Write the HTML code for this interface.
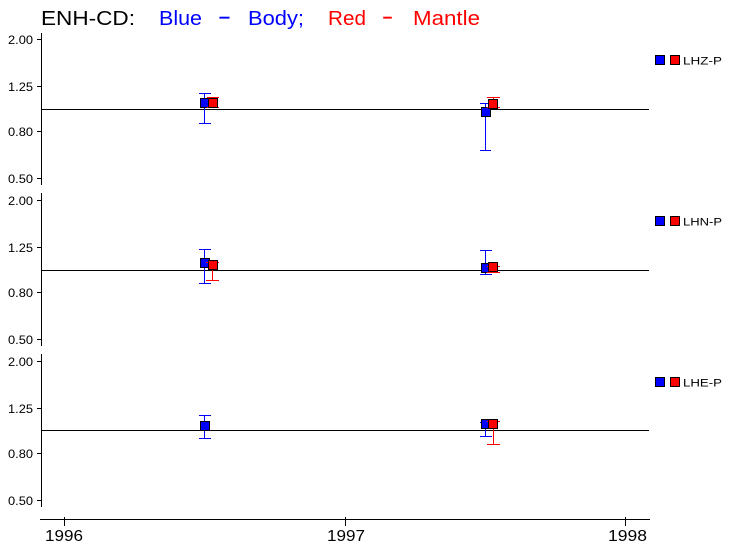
<!DOCTYPE html>
<html>
<head>
<meta charset="utf-8">
<style>
html,body{margin:0;padding:0;background:#fff;}
svg{display:block;}
text{font-family:"Liberation Sans",sans-serif;}
</style>
</head>
<body>
<svg width="733" height="551" viewBox="0 0 733 551" xmlns="http://www.w3.org/2000/svg">
<rect width="733" height="551" fill="#fff"/>
<!-- Title -->
<g font-size="20">
<text x="41" y="25" textLength="94" lengthAdjust="spacingAndGlyphs" fill="#000">ENH-CD:</text>
<text x="159" y="25" textLength="43" lengthAdjust="spacingAndGlyphs" fill="#0000ff">Blue</text>
<text x="218" y="23" textLength="13" lengthAdjust="spacingAndGlyphs" fill="#0000ff" stroke="#0000ff" stroke-width="0.3">-</text>
<text x="248" y="25" textLength="56" lengthAdjust="spacingAndGlyphs" fill="#0000ff">Body;</text>
<text x="328" y="25" textLength="38" lengthAdjust="spacingAndGlyphs" fill="#ff0000">Red</text>
<text x="382" y="23" textLength="11" lengthAdjust="spacingAndGlyphs" fill="#ff0000" stroke="#ff0000" stroke-width="0.3">-</text>
<text x="413" y="25" textLength="67" lengthAdjust="spacingAndGlyphs" fill="#ff0000">Mantle</text>
</g>

<g stroke="#000" stroke-width="1" fill="none" shape-rendering="crispEdges">
<!-- y axes -->
<line x1="41.5" y1="33" x2="41.5" y2="185"/>
<line x1="41.5" y1="193" x2="41.5" y2="346"/>
<line x1="41.5" y1="354" x2="41.5" y2="507"/>
<!-- y ticks -->
<line x1="37" y1="39.5" x2="41" y2="39.5"/>
<line x1="37" y1="86.5" x2="41" y2="86.5"/>
<line x1="37" y1="131.5" x2="41" y2="131.5"/>
<line x1="37" y1="178.5" x2="41" y2="178.5"/>
<line x1="37" y1="200.5" x2="41" y2="200.5"/>
<line x1="37" y1="247.5" x2="41" y2="247.5"/>
<line x1="37" y1="292.5" x2="41" y2="292.5"/>
<line x1="37" y1="339.5" x2="41" y2="339.5"/>
<line x1="37" y1="361.5" x2="41" y2="361.5"/>
<line x1="37" y1="408.5" x2="41" y2="408.5"/>
<line x1="37" y1="453.5" x2="41" y2="453.5"/>
<line x1="37" y1="500.5" x2="41" y2="500.5"/>
<!-- baselines -->
<line x1="41" y1="109.5" x2="649" y2="109.5"/>
<line x1="41" y1="270.5" x2="649" y2="270.5"/>
<line x1="41" y1="430.5" x2="649" y2="430.5"/>
<!-- x axis -->
<line x1="40" y1="519.5" x2="650" y2="519.5"/>
<line x1="64.5" y1="517" x2="64.5" y2="526"/>
<line x1="345.5" y1="517" x2="345.5" y2="526"/>
<line x1="625.5" y1="517" x2="625.5" y2="526"/>
</g>

<!-- y tick labels -->
<g font-size="12" fill="#000">
<text x="8" y="44" textLength="25" lengthAdjust="spacingAndGlyphs">2.00</text>
<text x="8" y="91" textLength="25" lengthAdjust="spacingAndGlyphs">1.25</text>
<text x="8" y="136" textLength="25" lengthAdjust="spacingAndGlyphs">0.80</text>
<text x="8" y="183" textLength="25" lengthAdjust="spacingAndGlyphs">0.50</text>
<text x="8" y="205" textLength="25" lengthAdjust="spacingAndGlyphs">2.00</text>
<text x="8" y="252" textLength="25" lengthAdjust="spacingAndGlyphs">1.25</text>
<text x="8" y="297" textLength="25" lengthAdjust="spacingAndGlyphs">0.80</text>
<text x="8" y="344" textLength="25" lengthAdjust="spacingAndGlyphs">0.50</text>
<text x="8" y="366" textLength="25" lengthAdjust="spacingAndGlyphs">2.00</text>
<text x="8" y="413" textLength="25" lengthAdjust="spacingAndGlyphs">1.25</text>
<text x="8" y="458" textLength="25" lengthAdjust="spacingAndGlyphs">0.80</text>
<text x="8" y="505" textLength="25" lengthAdjust="spacingAndGlyphs">0.50</text>
</g>

<!-- x labels -->
<g font-size="16" fill="#000">
<text x="45" y="541" textLength="38" lengthAdjust="spacingAndGlyphs">1996</text>
<text x="327" y="541" textLength="38" lengthAdjust="spacingAndGlyphs">1997</text>
<text x="608" y="541" textLength="39" lengthAdjust="spacingAndGlyphs">1998</text>
</g>

<g stroke-width="1" shape-rendering="crispEdges">
<!-- Panel 1 data -->
<g stroke="#0000ff">
<line x1="204.5" y1="93.5" x2="204.5" y2="123.5"/>
<line x1="199" y1="93.5" x2="211" y2="93.5"/>
<line x1="199" y1="123.5" x2="211" y2="123.5"/>
</g>
<rect x="200.5" y="98.5" width="9" height="9" fill="#0000ff" stroke="#000"/>
<g stroke="#ff0000">
<line x1="213.5" y1="97.5" x2="213.5" y2="107.5"/>
<line x1="207" y1="97.5" x2="219" y2="97.5"/>
<line x1="207" y1="107.5" x2="219" y2="107.5"/>
</g>
<rect x="208.5" y="98.5" width="9" height="9" fill="#ff0000" stroke="#000"/>

<g stroke="#0000ff">
<line x1="485.5" y1="103.5" x2="485.5" y2="150.5"/>
<line x1="480" y1="103.5" x2="491" y2="103.5"/>
<line x1="480" y1="150.5" x2="491" y2="150.5"/>
</g>
<rect x="481.5" y="107.5" width="9" height="9" fill="#0000ff" stroke="#000"/>
<g stroke="#ff0000">
<line x1="493.5" y1="97.5" x2="493.5" y2="107.5"/>
<line x1="487" y1="97.5" x2="500" y2="97.5"/>
<line x1="487" y1="107.5" x2="500" y2="107.5"/>
</g>
<rect x="488.5" y="99.5" width="9" height="9" fill="#ff0000" stroke="#000"/>

<!-- Panel 2 data -->
<g stroke="#0000ff">
<line x1="204.5" y1="249.5" x2="204.5" y2="283.5"/>
<line x1="199" y1="249.5" x2="211" y2="249.5"/>
<line x1="199" y1="283.5" x2="211" y2="283.5"/>
</g>
<rect x="200.5" y="258.5" width="9" height="9" fill="#0000ff" stroke="#000"/>
<g stroke="#ff0000">
<line x1="212.5" y1="262.5" x2="212.5" y2="280.5"/>
<line x1="206" y1="262.5" x2="219" y2="262.5"/>
<line x1="206" y1="280.5" x2="219" y2="280.5"/>
</g>
<rect x="208.5" y="260.5" width="9" height="9" fill="#ff0000" stroke="#000"/>

<g stroke="#0000ff">
<line x1="485.5" y1="250.5" x2="485.5" y2="274.5"/>
<line x1="480" y1="250.5" x2="492" y2="250.5"/>
<line x1="480" y1="274.5" x2="492" y2="274.5"/>
</g>
<rect x="481.5" y="263.5" width="9" height="9" fill="#0000ff" stroke="#000"/>
<g stroke="#ff0000">
<line x1="493.5" y1="266.5" x2="493.5" y2="272.5"/>
<line x1="487" y1="266.5" x2="500" y2="266.5"/>
<line x1="487" y1="272.5" x2="500" y2="272.5"/>
</g>
<rect x="488.5" y="262.5" width="9" height="9" fill="#ff0000" stroke="#000"/>

<!-- Panel 3 data -->
<g stroke="#0000ff">
<line x1="204.5" y1="415.5" x2="204.5" y2="438.5"/>
<line x1="199" y1="415.5" x2="211" y2="415.5"/>
<line x1="199" y1="438.5" x2="211" y2="438.5"/>
</g>
<rect x="200.5" y="421.5" width="9" height="9" fill="#0000ff" stroke="#000"/>

<g stroke="#0000ff">
<line x1="485.5" y1="422.5" x2="485.5" y2="436.5"/>
<line x1="480" y1="422.5" x2="492" y2="422.5"/>
<line x1="480" y1="436.5" x2="492" y2="436.5"/>
</g>
<rect x="481.5" y="419.5" width="9" height="9" fill="#0000ff" stroke="#000"/>
<g stroke="#ff0000">
<line x1="493.5" y1="421.5" x2="493.5" y2="444.5"/>
<line x1="487" y1="421.5" x2="500" y2="421.5"/>
<line x1="487" y1="444.5" x2="500" y2="444.5"/>
</g>
<rect x="488.5" y="419.5" width="9" height="9" fill="#ff0000" stroke="#000"/>

<!-- Legends -->
<g stroke="#000">
<rect x="655.5" y="55.5" width="9" height="9" fill="#0000ff"/>
<rect x="670.5" y="55.5" width="9" height="9" fill="#ff0000"/>
<rect x="655.5" y="216.5" width="9" height="9" fill="#0000ff"/>
<rect x="670.5" y="216.5" width="9" height="9" fill="#ff0000"/>
<rect x="655.5" y="377.5" width="9" height="9" fill="#0000ff"/>
<rect x="670.5" y="377.5" width="9" height="9" fill="#ff0000"/>
</g>
</g>
<g font-size="11" fill="#000">
<text x="683" y="64.5" textLength="39" lengthAdjust="spacingAndGlyphs">LHZ-P</text>
<text x="683" y="225.5" textLength="39" lengthAdjust="spacingAndGlyphs">LHN-P</text>
<text x="683" y="386.5" textLength="39" lengthAdjust="spacingAndGlyphs">LHE-P</text>
</g>
</svg>
</body>
</html>
